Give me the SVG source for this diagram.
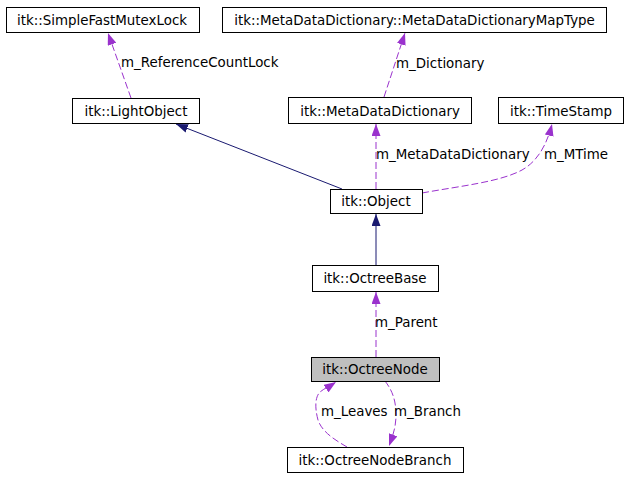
<svg xmlns="http://www.w3.org/2000/svg" width="631" height="477" viewBox="0 0 631 477">
<style>
.box rect{fill:#fff;stroke:#000;stroke-width:1}
.box.cur rect{fill:#bfbfbf}
text{font-family:"DejaVu Sans","Liberation Sans",sans-serif;font-size:13.4px;fill:#000}
.box text{text-anchor:middle}
.inh{fill:none;stroke:#191970;stroke-width:1}
.use{fill:none;stroke:#9a32cd;stroke-width:1;stroke-dasharray:7,3}
</style>
<defs>
<marker id="ah-use" viewBox="0 0 12 9" refX="12" refY="4.5" markerWidth="12" markerHeight="9" markerUnits="userSpaceOnUse" orient="auto">
<path d="M0,0 L12,4.5 L0,9 z" fill="#9a32cd" stroke="none"/>
</marker>
<marker id="ah-inh" viewBox="0 0 12 9" refX="12" refY="4.5" markerWidth="12" markerHeight="9" markerUnits="userSpaceOnUse" orient="auto">
<path d="M0,0 L12,4.5 L0,9 z" fill="#191970" stroke="none"/>
</marker>
</defs>
<rect width="631" height="477" fill="#fff"/>
<g id="connectors">
<path class="use" d="M131,98 L108,33" marker-end="url(#ah-use)"/>
<text x="121" y="67">m_ReferenceCountLock</text>
<path class="use" d="M384,97 L405,33" marker-end="url(#ah-use)"/>
<text x="396" y="68">m_Dictionary</text>
<path class="inh" d="M342,189 L176,124" marker-end="url(#ah-inh)"/>
<path class="use" d="M376,189 L376,124" marker-end="url(#ah-use)"/>
<text x="376" y="159">m_MetaDataDictionary</text>
<path class="use" d="M422,193 C460,186 500,182 522,170 C540,160 548,140 552,124" marker-end="url(#ah-use)"/>
<text x="544" y="159">m_MTime</text>
<path class="inh" d="M376,265 L376,214" marker-end="url(#ah-inh)"/>
<path class="use" d="M376,357 L376,292" marker-end="url(#ah-use)"/>
<text x="375" y="327">m_Parent</text>
<path class="use" d="M385,381 C392,390 396,400 396,415 C396,428 392,438 389,446" marker-end="url(#ah-use)"/>
<text x="394" y="416">m_Branch</text>
<path class="use" d="M347,447 C335,440 322,432 318,420 C314,405 316,396 320,392 C325,388 330,386 336,382" marker-end="url(#ah-use)"/>
<text x="321" y="416">m_Leaves</text>
</g>
<g id="n-SimpleFastMutexLock" class="box"><rect x="6.5" y="7.5" width="193" height="25"/><text x="102" y="25">itk::SimpleFastMutexLock</text></g>
<g id="n-MapType" class="box"><rect x="222.5" y="7.5" width="384" height="25"/><text x="414.5" y="25">itk::MetaDataDictionary::MetaDataDictionaryMapType</text></g>
<g id="n-LightObject" class="box"><rect x="72.5" y="98.5" width="127" height="25"/><text x="136" y="116">itk::LightObject</text></g>
<g id="n-MetaDataDictionary" class="box"><rect x="288.5" y="97.5" width="183" height="26"/><text x="380" y="116">itk::MetaDataDictionary</text></g>
<g id="n-TimeStamp" class="box"><rect x="498.5" y="97.5" width="125" height="26"/><text x="561" y="116">itk::TimeStamp</text></g>
<g id="n-Object" class="box"><rect x="330.5" y="189.5" width="92" height="24"/><text x="376" y="206">itk::Object</text></g>
<g id="n-OctreeBase" class="box"><rect x="312.5" y="265.5" width="126" height="26"/><text x="375" y="283">itk::OctreeBase</text></g>
<g id="n-OctreeNode" class="box cur"><rect x="311.5" y="357.5" width="128" height="24"/><text x="375" y="374">itk::OctreeNode</text></g>
<g id="n-OctreeNodeBranch" class="box"><rect x="287.5" y="447.5" width="176" height="25"/><text x="375" y="465">itk::OctreeNodeBranch</text></g>
</svg>
